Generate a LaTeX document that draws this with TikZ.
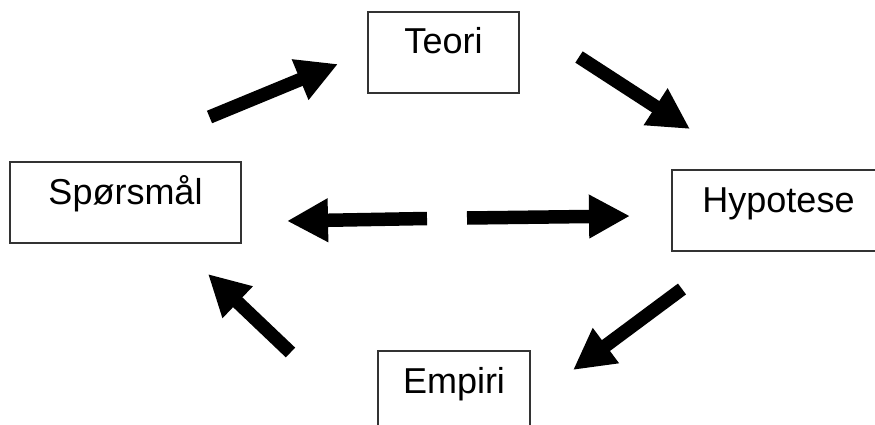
\documentclass[tikz,border=0pt]{standalone}
\usepackage{fontspec}
\setmainfont{Liberation Sans}
\usetikzlibrary{arrows.meta}

\tikzset{
  stagebox/.style={draw=black!80, line width=1.3pt, fill=white,
    inner xsep=0pt, inner ysep=0pt,
    text height=42pt, text depth=39pt,
    font=\fontsize{36}{43}\selectfont},
  flowarrow/.style={line width=13.5pt, black,
    -{Triangle[length=41pt,width=41pt]}}
}

\begin{document}
\begin{tikzpicture}[x=1pt, y=-1pt]
  \useasboundingbox (0,0) rectangle (875,425);
  \clip (0,0) rectangle (875,425);

  % the four stages of the research cycle
  \node[stagebox, minimum width=151pt] (teori)    at (443.5,52.5)  {Teori};
  \node[stagebox, minimum width=231pt] (sporsmal) at (125.5,202.5) {Spørsmål};
  \node[stagebox, minimum width=213pt] (hypotese) at (778.5,210.5) {Hypotese};
  \node[stagebox, minimum width=152pt] (empiri)   at (454,391.5)   {Empiri};

  % free-standing arrow end points
  \coordinate (a1s) at (209.5,117);  \coordinate (a1e) at (338,64);
  \coordinate (a2s) at (579,57);     \coordinate (a2e) at (690,129);
  \coordinate (a3s) at (682,289);    \coordinate (a3e) at (573,370);
  \coordinate (a4s) at (290.5,352.5);\coordinate (a4e) at (208,274);
  \coordinate (a5s) at (427,218.5);  \coordinate (a5e) at (287,221);
  \coordinate (a6s) at (467,218);    \coordinate (a6e) at (630,216);

  % block arrows of the cycle
  \draw[flowarrow] (a1s) -- (a1e);
  \draw[flowarrow] (a2s) -- (a2e);
  \draw[flowarrow] (a3s) -- (a3e);
  \draw[flowarrow] (a4s) -- (a4e);
  \draw[flowarrow] (a5s) -- (a5e);
  \draw[flowarrow] (a6s) -- (a6e);
\end{tikzpicture}
\end{document}
